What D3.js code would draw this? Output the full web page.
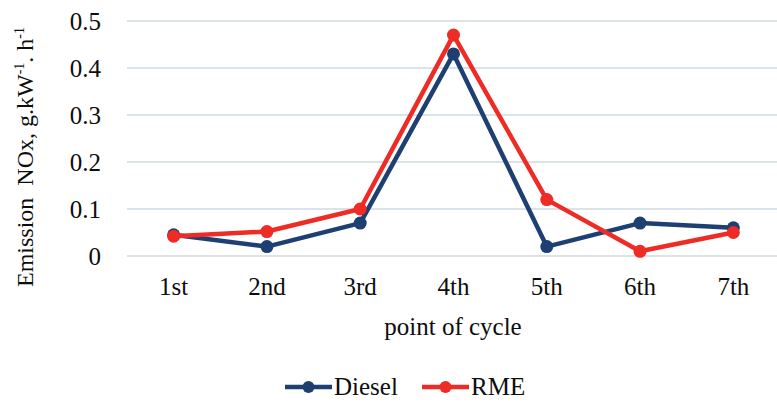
<!DOCTYPE html>
<html>
<head>
<meta charset="utf-8">
<script src="https://cdn.jsdelivr.net/npm/d3@7"></script>
<style>
  body { margin: 0; background: #fff; }
</style>
</head>
<body>
<div id="container"></div>
<script>
var width = 777, height = 404;

// data
var points = ["1st", "2nd", "3rd", "4th", "5th", "6th", "7th"];
var diesel = [0.045, 0.02, 0.07, 0.43, 0.02, 0.07, 0.06];
var rme = [0.042, 0.052, 0.1, 0.47, 0.12, 0.01, 0.05];
var yTicks = [0, 0.1, 0.2, 0.3, 0.4, 0.5];

var series = [
  { name: "Diesel", values: diesel, color: "#1d3f72" },
  { name: "RME", values: rme, color: "#ee2b24" }
];

var margin = { left: 127, right: -3, top: 21, bottom: 148 };
var fs = "25px";

var svg = d3.select("#container").append("svg")
  .attr("width", width)
  .attr("height", height)
  .attr("font-family", "'Liberation Serif', 'Times New Roman', Times, serif")
  .attr("fill", "#0d0d0d");

var x = d3.scalePoint()
  .domain(points)
  .range([margin.left, width - margin.right])
  .padding(0.5);

var y = d3.scaleLinear()
  .domain([0, 0.5])
  .range([height - margin.bottom, margin.top]);

// gridlines
svg.append("g").selectAll("line")
  .data(yTicks)
  .enter().append("line")
  .attr("x1", margin.left)
  .attr("x2", width - margin.right)
  .attr("y1", d => y(d))
  .attr("y2", d => y(d))
  .attr("stroke", "#dae2ea")
  .attr("stroke-width", 2);

// y tick labels
svg.append("g").selectAll("text")
  .data(yTicks)
  .enter().append("text")
  .attr("x", 101)
  .attr("y", d => y(d))
  .attr("dy", "0.35em")
  .attr("text-anchor", "end")
  .style("font-size", fs)
  .text(d => d === 0 ? "0" : d3.format(".1f")(d));

// x tick labels
svg.append("g").selectAll("text")
  .data(points)
  .enter().append("text")
  .attr("x", d => x(d))
  .attr("y", 295)
  .attr("text-anchor", "middle")
  .style("font-size", fs)
  .text(d => d);

// axis titles
svg.append("text")
  .attr("x", 453)
  .attr("y", 335)
  .attr("text-anchor", "middle")
  .style("font-size", fs)
  .text("point of cycle");

var yt = svg.append("text")
  .attr("transform", "translate(33,157) rotate(-90)")
  .attr("text-anchor", "middle")
  .style("font-size", "24px");
yt.append("tspan").text("Emission\u00a0 NOx, g.kW");
yt.append("tspan").attr("dy", -9).style("font-size", "14px").text("-1");
yt.append("tspan").attr("dy", 9).text(". h");
yt.append("tspan").attr("dy", -9).style("font-size", "14px").text("-1");

// lines
var line = d3.line()
  .x((d, i) => x(points[i]))
  .y(d => y(d));

series.forEach(function(s) {
  svg.append("path")
    .datum(s.values)
    .attr("d", line)
    .attr("fill", "none")
    .attr("stroke", s.color)
    .attr("stroke-width", 4.5)
    .attr("stroke-linejoin", "round");

  svg.append("g").selectAll("circle")
    .data(s.values)
    .enter().append("circle")
    .attr("cx", (d, i) => x(points[i]))
    .attr("cy", d => y(d))
    .attr("r", 6.5)
    .attr("fill", s.color);
});

// legend
var legend = svg.append("g");
var legendItems = [
  { s: series[0], x0: 285 },
  { s: series[1], x0: 422 }
];
legendItems.forEach(function(it) {
  legend.append("line")
    .attr("x1", it.x0).attr("x2", it.x0 + 47)
    .attr("y1", 387).attr("y2", 387)
    .attr("stroke", it.s.color)
    .attr("stroke-width", 4.5);
  legend.append("circle")
    .attr("cx", it.x0 + 23.5).attr("cy", 387)
    .attr("r", 6)
    .attr("fill", it.s.color);
  legend.append("text")
    .attr("x", it.x0 + 49)
    .attr("y", 395)
    .style("font-size", fs)
    .text(it.s.name);
});
</script>
</body>
</html>
